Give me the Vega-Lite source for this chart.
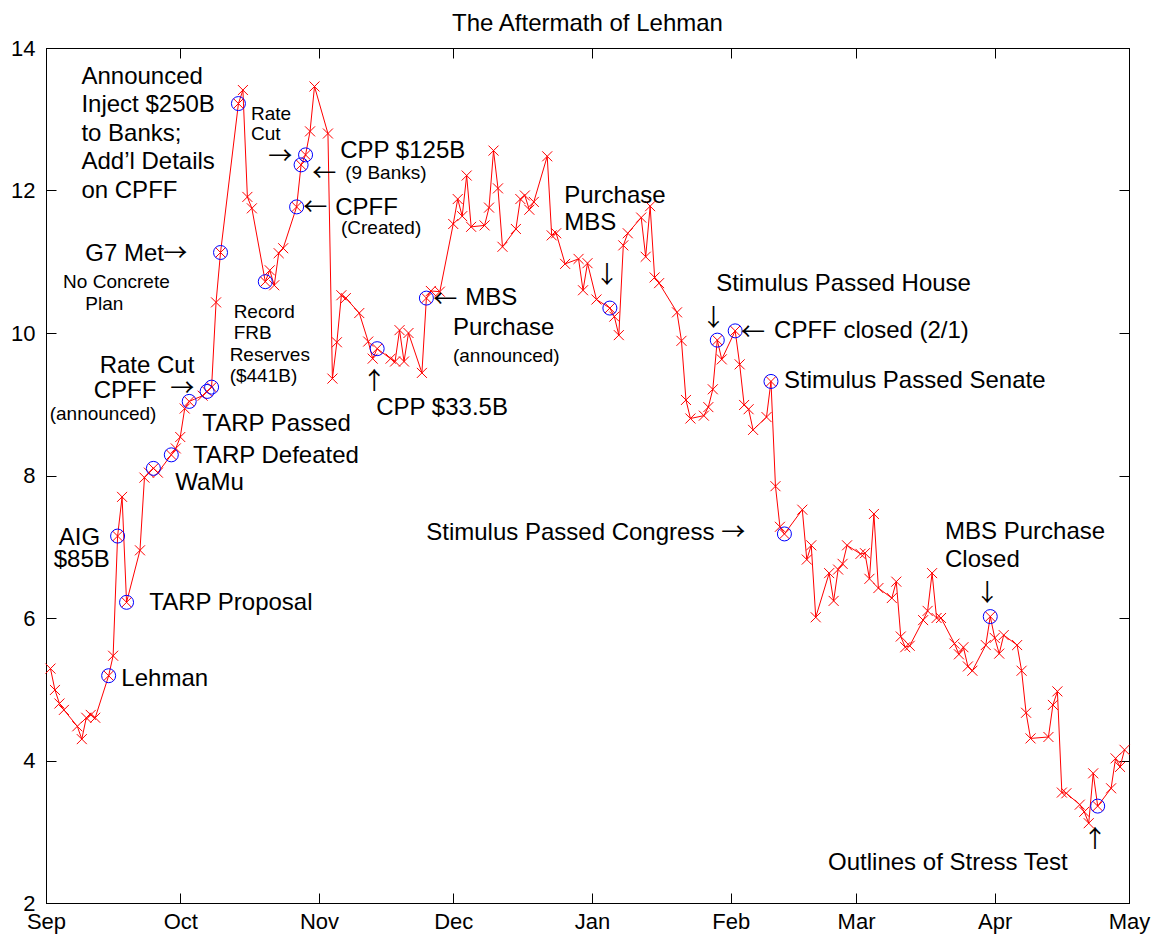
{
  "$schema": "https://vega.github.io/schema/vega-lite/v6.json",
  "autosize": {"type": "none"},
  "width": 1083,
  "height": 855,
  "padding": {"left": 46, "top": 48, "right": 24, "bottom": 33},
  "background": "white",
  "title": {"text": "The Aftermath of Lehman", "fontSize": 24, "fontWeight": "normal", "font": "Liberation Sans", "color": "black", "offset": 1},
  "config": {"view": {"stroke": "black", "strokeWidth": 1}, "font": "Liberation Sans"},
  "datasets": {
    "series": [
      {"d": "2008-09-02", "v": 5.29, "e": 0},
      {"d": "2008-09-03", "v": 4.99, "e": 0},
      {"d": "2008-09-04", "v": 4.80, "e": 0},
      {"d": "2008-09-05", "v": 4.71, "e": 0},
      {"d": "2008-09-08", "v": 4.48, "e": 0},
      {"d": "2008-09-09", "v": 4.30, "e": 0},
      {"d": "2008-09-10", "v": 4.60, "e": 0},
      {"d": "2008-09-11", "v": 4.64, "e": 0},
      {"d": "2008-09-12", "v": 4.60, "e": 0},
      {"d": "2008-09-15", "v": 5.19, "e": 1},
      {"d": "2008-09-16", "v": 5.47, "e": 0},
      {"d": "2008-09-17", "v": 7.15, "e": 1},
      {"d": "2008-09-18", "v": 7.70, "e": 0},
      {"d": "2008-09-19", "v": 6.22, "e": 1},
      {"d": "2008-09-22", "v": 6.95, "e": 0},
      {"d": "2008-09-23", "v": 7.97, "e": 0},
      {"d": "2008-09-24", "v": 8.04, "e": 0},
      {"d": "2008-09-25", "v": 8.10, "e": 1},
      {"d": "2008-09-26", "v": 8.04, "e": 0},
      {"d": "2008-09-29", "v": 8.29, "e": 1},
      {"d": "2008-09-30", "v": 8.38, "e": 0},
      {"d": "2008-10-01", "v": 8.54, "e": 0},
      {"d": "2008-10-02", "v": 8.94, "e": 0},
      {"d": "2008-10-03", "v": 9.04, "e": 1},
      {"d": "2008-10-06", "v": 9.12, "e": 0},
      {"d": "2008-10-07", "v": 9.18, "e": 1},
      {"d": "2008-10-08", "v": 9.24, "e": 1},
      {"d": "2008-10-09", "v": 10.43, "e": 0},
      {"d": "2008-10-10", "v": 11.13, "e": 1},
      {"d": "2008-10-14", "v": 13.22, "e": 1},
      {"d": "2008-10-15", "v": 13.41, "e": 0},
      {"d": "2008-10-16", "v": 11.91, "e": 0},
      {"d": "2008-10-17", "v": 11.75, "e": 0},
      {"d": "2008-10-20", "v": 10.72, "e": 1},
      {"d": "2008-10-21", "v": 10.88, "e": 0},
      {"d": "2008-10-22", "v": 10.67, "e": 0},
      {"d": "2008-10-23", "v": 11.12, "e": 0},
      {"d": "2008-10-24", "v": 11.19, "e": 0},
      {"d": "2008-10-27", "v": 11.77, "e": 1},
      {"d": "2008-10-28", "v": 12.36, "e": 1},
      {"d": "2008-10-29", "v": 12.50, "e": 1},
      {"d": "2008-10-30", "v": 12.83, "e": 0},
      {"d": "2008-10-31", "v": 13.46, "e": 0},
      {"d": "2008-11-03", "v": 12.80, "e": 0},
      {"d": "2008-11-04", "v": 9.36, "e": 0},
      {"d": "2008-11-05", "v": 9.87, "e": 0},
      {"d": "2008-11-06", "v": 10.53, "e": 0},
      {"d": "2008-11-07", "v": 10.49, "e": 0},
      {"d": "2008-11-10", "v": 10.28, "e": 0},
      {"d": "2008-11-12", "v": 9.88, "e": 0},
      {"d": "2008-11-13", "v": 9.64, "e": 0},
      {"d": "2008-11-14", "v": 9.78, "e": 1},
      {"d": "2008-11-17", "v": 9.64, "e": 0},
      {"d": "2008-11-18", "v": 9.60, "e": 0},
      {"d": "2008-11-19", "v": 10.04, "e": 0},
      {"d": "2008-11-20", "v": 9.60, "e": 0},
      {"d": "2008-11-21", "v": 10.00, "e": 0},
      {"d": "2008-11-24", "v": 9.44, "e": 0},
      {"d": "2008-11-25", "v": 10.49, "e": 1},
      {"d": "2008-11-26", "v": 10.59, "e": 0},
      {"d": "2008-11-28", "v": 10.58, "e": 0},
      {"d": "2008-12-01", "v": 11.53, "e": 0},
      {"d": "2008-12-02", "v": 11.88, "e": 0},
      {"d": "2008-12-03", "v": 11.64, "e": 0},
      {"d": "2008-12-04", "v": 12.21, "e": 0},
      {"d": "2008-12-05", "v": 11.49, "e": 0},
      {"d": "2008-12-08", "v": 11.51, "e": 0},
      {"d": "2008-12-09", "v": 11.76, "e": 0},
      {"d": "2008-12-10", "v": 12.56, "e": 0},
      {"d": "2008-12-11", "v": 12.03, "e": 0},
      {"d": "2008-12-12", "v": 11.21, "e": 0},
      {"d": "2008-12-15", "v": 11.46, "e": 0},
      {"d": "2008-12-16", "v": 11.88, "e": 0},
      {"d": "2008-12-17", "v": 11.93, "e": 0},
      {"d": "2008-12-18", "v": 11.73, "e": 0},
      {"d": "2008-12-19", "v": 11.84, "e": 0},
      {"d": "2008-12-22", "v": 12.48, "e": 0},
      {"d": "2008-12-23", "v": 11.37, "e": 0},
      {"d": "2008-12-24", "v": 11.40, "e": 0},
      {"d": "2008-12-26", "v": 10.97, "e": 0},
      {"d": "2008-12-29", "v": 11.04, "e": 0},
      {"d": "2008-12-30", "v": 10.60, "e": 0},
      {"d": "2008-12-31", "v": 10.98, "e": 0},
      {"d": "2009-01-02", "v": 10.47, "e": 0},
      {"d": "2009-01-05", "v": 10.35, "e": 1},
      {"d": "2009-01-06", "v": 10.23, "e": 0},
      {"d": "2009-01-07", "v": 9.97, "e": 0},
      {"d": "2009-01-08", "v": 11.23, "e": 0},
      {"d": "2009-01-09", "v": 11.40, "e": 0},
      {"d": "2009-01-12", "v": 11.62, "e": 0},
      {"d": "2009-01-13", "v": 11.07, "e": 0},
      {"d": "2009-01-14", "v": 11.78, "e": 0},
      {"d": "2009-01-15", "v": 10.78, "e": 0},
      {"d": "2009-01-16", "v": 10.70, "e": 0},
      {"d": "2009-01-20", "v": 10.29, "e": 0},
      {"d": "2009-01-21", "v": 9.89, "e": 0},
      {"d": "2009-01-22", "v": 9.06, "e": 0},
      {"d": "2009-01-23", "v": 8.80, "e": 0},
      {"d": "2009-01-26", "v": 8.84, "e": 0},
      {"d": "2009-01-27", "v": 8.96, "e": 0},
      {"d": "2009-01-28", "v": 9.21, "e": 0},
      {"d": "2009-01-29", "v": 9.90, "e": 1},
      {"d": "2009-01-30", "v": 9.63, "e": 0},
      {"d": "2009-02-02", "v": 10.03, "e": 1},
      {"d": "2009-02-03", "v": 9.56, "e": 0},
      {"d": "2009-02-04", "v": 8.99, "e": 0},
      {"d": "2009-02-05", "v": 8.93, "e": 0},
      {"d": "2009-02-06", "v": 8.64, "e": 0},
      {"d": "2009-02-09", "v": 8.82, "e": 0},
      {"d": "2009-02-10", "v": 9.32, "e": 1},
      {"d": "2009-02-11", "v": 7.85, "e": 0},
      {"d": "2009-02-12", "v": 7.28, "e": 0},
      {"d": "2009-02-13", "v": 7.18, "e": 1},
      {"d": "2009-02-17", "v": 7.52, "e": 0},
      {"d": "2009-02-18", "v": 6.82, "e": 0},
      {"d": "2009-02-19", "v": 7.02, "e": 0},
      {"d": "2009-02-20", "v": 6.01, "e": 0},
      {"d": "2009-02-23", "v": 6.63, "e": 0},
      {"d": "2009-02-24", "v": 6.24, "e": 0},
      {"d": "2009-02-25", "v": 6.68, "e": 0},
      {"d": "2009-02-26", "v": 6.76, "e": 0},
      {"d": "2009-02-27", "v": 7.02, "e": 0},
      {"d": "2009-03-02", "v": 6.90, "e": 0},
      {"d": "2009-03-03", "v": 6.91, "e": 0},
      {"d": "2009-03-04", "v": 6.55, "e": 0},
      {"d": "2009-03-05", "v": 7.46, "e": 0},
      {"d": "2009-03-06", "v": 6.42, "e": 0},
      {"d": "2009-03-09", "v": 6.28, "e": 0},
      {"d": "2009-03-10", "v": 6.51, "e": 0},
      {"d": "2009-03-11", "v": 5.74, "e": 0},
      {"d": "2009-03-12", "v": 5.59, "e": 0},
      {"d": "2009-03-13", "v": 5.61, "e": 0},
      {"d": "2009-03-16", "v": 5.97, "e": 0},
      {"d": "2009-03-17", "v": 6.10, "e": 0},
      {"d": "2009-03-18", "v": 6.63, "e": 0},
      {"d": "2009-03-19", "v": 6.00, "e": 0},
      {"d": "2009-03-20", "v": 6.00, "e": 0},
      {"d": "2009-03-23", "v": 5.64, "e": 0},
      {"d": "2009-03-24", "v": 5.49, "e": 0},
      {"d": "2009-03-25", "v": 5.59, "e": 0},
      {"d": "2009-03-26", "v": 5.32, "e": 0},
      {"d": "2009-03-27", "v": 5.26, "e": 0},
      {"d": "2009-03-30", "v": 5.62, "e": 0},
      {"d": "2009-03-31", "v": 6.02, "e": 1},
      {"d": "2009-04-01", "v": 5.72, "e": 0},
      {"d": "2009-04-02", "v": 5.50, "e": 0},
      {"d": "2009-04-03", "v": 5.76, "e": 0},
      {"d": "2009-04-06", "v": 5.62, "e": 0},
      {"d": "2009-04-07", "v": 5.26, "e": 0},
      {"d": "2009-04-08", "v": 4.67, "e": 0},
      {"d": "2009-04-09", "v": 4.31, "e": 0},
      {"d": "2009-04-13", "v": 4.33, "e": 0},
      {"d": "2009-04-14", "v": 4.78, "e": 0},
      {"d": "2009-04-15", "v": 4.97, "e": 0},
      {"d": "2009-04-16", "v": 3.55, "e": 0},
      {"d": "2009-04-17", "v": 3.54, "e": 0},
      {"d": "2009-04-20", "v": 3.38, "e": 0},
      {"d": "2009-04-21", "v": 3.28, "e": 0},
      {"d": "2009-04-22", "v": 3.12, "e": 0},
      {"d": "2009-04-23", "v": 3.82, "e": 0},
      {"d": "2009-04-24", "v": 3.36, "e": 1},
      {"d": "2009-04-27", "v": 3.61, "e": 0},
      {"d": "2009-04-28", "v": 4.03, "e": 0},
      {"d": "2009-04-29", "v": 3.91, "e": 0},
      {"d": "2009-04-30", "v": 4.15, "e": 0}
    ],
    "labels": [
      {"d": "2008-09-08T22:00:00Z", "v": 13.59, "t": "Announced", "k": "big"},
      {"d": "2008-09-08T22:00:00Z", "v": 13.20, "t": "Inject $250B", "k": "big"},
      {"d": "2008-09-08T22:00:00Z", "v": 12.80, "t": "to Banks;", "k": "big"},
      {"d": "2008-09-08T22:00:00Z", "v": 12.40, "t": "Add’l Details", "k": "big"},
      {"d": "2008-09-08T22:00:00Z", "v": 12.00, "t": "on CPFF", "k": "big"},
      {"d": "2008-09-09T19:00:00Z", "v": 11.11, "t": "G7 Met", "k": "big"},
      {"d": "2008-09-27T05:20:00Z", "v": 11.11, "t": "→", "k": "harrow"},
      {"d": "2008-09-04T19:40:00Z", "v": 10.71, "t": "No Concrete", "k": "small"},
      {"d": "2008-09-09T19:00:00Z", "v": 10.41, "t": "Plan", "k": "small"},
      {"d": "2008-09-12T23:50:00Z", "v": 9.54, "t": "Rate Cut", "k": "big"},
      {"d": "2008-09-11T15:40:00Z", "v": 9.19, "t": "CPFF", "k": "big"},
      {"d": "2008-09-28T19:00:00Z", "v": 9.21, "t": "→", "k": "harrow"},
      {"d": "2008-09-01T19:50:00Z", "v": 8.86, "t": "(announced)", "k": "small"},
      {"d": "2008-10-05T22:20:00Z", "v": 8.72, "t": "TARP Passed", "k": "big"},
      {"d": "2008-10-03T20:40:00Z", "v": 8.27, "t": "TARP Defeated", "k": "big"},
      {"d": "2008-09-29T21:40:00Z", "v": 7.89, "t": "WaMu", "k": "big"},
      {"d": "2008-09-03T20:10:00Z", "v": 7.12, "t": "AIG", "k": "big"},
      {"d": "2008-09-02T17:20:00Z", "v": 6.81, "t": "$85B", "k": "big"},
      {"d": "2008-09-24T02:20:00Z", "v": 6.21, "t": "TARP Proposal", "k": "big"},
      {"d": "2008-09-17T20:10:00Z", "v": 5.15, "t": "Lehman", "k": "big"},
      {"d": "2008-10-16T19:30:00Z", "v": 13.07, "t": "Rate", "k": "small"},
      {"d": "2008-10-16T19:30:00Z", "v": 12.79, "t": "Cut", "k": "small"},
      {"d": "2008-10-20T16:20:00Z", "v": 12.47, "t": "→", "k": "harrow"},
      {"d": "2008-11-05T18:10:00Z", "v": 12.55, "t": "CPP $125B", "k": "big"},
      {"d": "2008-10-30T12:00:00Z", "v": 12.23, "t": "←", "k": "harrow"},
      {"d": "2008-11-06T20:50:00Z", "v": 12.24, "t": "(9 Banks)", "k": "small"},
      {"d": "2008-10-28T11:50:00Z", "v": 11.75, "t": "←", "k": "harrow"},
      {"d": "2008-11-04T15:20:00Z", "v": 11.76, "t": "CPFF", "k": "big"},
      {"d": "2008-11-05T22:00:00Z", "v": 11.47, "t": "(Created)", "k": "small"},
      {"d": "2008-10-12T22:20:00Z", "v": 10.30, "t": "Record", "k": "small"},
      {"d": "2008-10-12T22:20:00Z", "v": 10.00, "t": "FRB", "k": "small"},
      {"d": "2008-10-12T00:50:00Z", "v": 9.69, "t": "Reserves", "k": "small"},
      {"d": "2008-10-12T00:50:00Z", "v": 9.39, "t": "($441B)", "k": "small"},
      {"d": "2008-11-13T08:25:00Z", "v": 9.31, "t": "↑", "k": "varrow"},
      {"d": "2008-11-13T19:10:00Z", "v": 8.95, "t": "CPP $33.5B", "k": "big"},
      {"d": "2008-11-26T12:40:00Z", "v": 10.46, "t": "←", "k": "harrow"},
      {"d": "2008-12-03T16:20:00Z", "v": 10.49, "t": "MBS", "k": "big"},
      {"d": "2008-11-30T22:20:00Z", "v": 10.07, "t": "Purchase", "k": "big"},
      {"d": "2008-11-30T22:20:00Z", "v": 9.68, "t": "(announced)", "k": "small"},
      {"d": "2008-12-25T19:00:00Z", "v": 11.92, "t": "Purchase", "k": "big"},
      {"d": "2008-12-25T19:00:00Z", "v": 11.55, "t": "MBS", "k": "big"},
      {"d": "2009-01-04T08:00:00Z", "v": 10.80, "t": "↓", "k": "varrow"},
      {"d": "2009-01-28T17:50:00Z", "v": 10.69, "t": "Stimulus Passed House", "k": "big"},
      {"d": "2009-01-28T03:20:00Z", "v": 10.20, "t": "↓", "k": "varrow"},
      {"d": "2009-02-03T07:50:00Z", "v": 10.00, "t": "←", "k": "harrow"},
      {"d": "2009-02-10T16:50:00Z", "v": 10.03, "t": "CPFF closed (2/1)", "k": "big"},
      {"d": "2009-02-12T22:20:00Z", "v": 9.32, "t": "Stimulus Passed Senate", "k": "big"},
      {"d": "2008-11-24T23:20:00Z", "v": 7.19, "t": "Stimulus Passed Congress", "k": "big"},
      {"d": "2009-01-29T20:40:00Z", "v": 7.19, "t": "→", "k": "harrow"},
      {"d": "2009-03-20T21:20:00Z", "v": 7.21, "t": "MBS Purchase", "k": "big"},
      {"d": "2009-03-20T21:20:00Z", "v": 6.82, "t": "Closed", "k": "big"},
      {"d": "2009-03-30T08:10:00Z", "v": 6.34, "t": "↓", "k": "varrow"},
      {"d": "2009-04-23T09:40:00Z", "v": 2.88, "t": "↑", "k": "varrow"},
      {"d": "2009-02-22T18:10:00Z", "v": 2.56, "t": "Outlines of Stress Test", "k": "big"}
    ]
  },
  "resolve": {"axis": {"x": "independent", "y": "independent"}},
  "layer": [
    {
      "data": {"name": "series"},
      "mark": {"type": "line", "color": "#ff0000", "strokeWidth": 1},
      "encoding": {
        "x": {
          "field": "d", "type": "temporal",
          "scale": {"type": "utc", "domain": [{"year": 2008, "month": 9, "date": 1, "utc": true}, {"year": 2009, "month": 5, "date": 1, "utc": true}], "nice": false},
          "axis": {
            "orient": "bottom", "title": null, "grid": false,
            "values": [
              {"year": 2008, "month": 9, "date": 1, "utc": true},
              {"year": 2008, "month": 10, "date": 1, "utc": true},
              {"year": 2008, "month": 11, "date": 1, "utc": true},
              {"year": 2008, "month": 12, "date": 1, "utc": true},
              {"year": 2009, "month": 1, "date": 1, "utc": true},
              {"year": 2009, "month": 2, "date": 1, "utc": true},
              {"year": 2009, "month": 3, "date": 1, "utc": true},
              {"year": 2009, "month": 4, "date": 1, "utc": true},
              {"year": 2009, "month": 5, "date": 1, "utc": true}
            ],
            "labelExpr": "utcFormat(datum.value, '%b')",
            "tickSize": -10, "labelPadding": 18, "labelFontSize": 22, "labelFont": "Liberation Sans",
            "labelColor": "black", "tickColor": "black", "domainColor": "black", "domainWidth": 1,
            "labelOverlap": false, "labelFlush": false
          }
        },
        "y": {
          "field": "v", "type": "quantitative",
          "scale": {"domain": [2, 14], "nice": false, "zero": false},
          "axis": {
            "orient": "left", "title": null, "grid": false,
            "values": [2, 4, 6, 8, 10, 12, 14],
            "tickSize": -10, "labelPadding": 21, "labelFontSize": 22, "labelFont": "Liberation Sans",
            "labelColor": "black", "tickColor": "black", "domainColor": "black", "domainWidth": 1,
            "labelOverlap": false, "labelFlush": false
          }
        }
      }
    },
    {
      "data": {"name": "series"},
      "mark": {"type": "point", "shape": "M-1,-1L1,1M-1,1L1,-1", "filled": false, "color": "#ff0000", "strokeWidth": 1, "size": 100, "opacity": 1},
      "encoding": {
        "x": {
          "field": "d", "type": "temporal",
          "axis": {
            "orient": "top", "title": null, "grid": false, "labels": false,
            "values": [
              {"year": 2008, "month": 9, "date": 1, "utc": true},
              {"year": 2008, "month": 10, "date": 1, "utc": true},
              {"year": 2008, "month": 11, "date": 1, "utc": true},
              {"year": 2008, "month": 12, "date": 1, "utc": true},
              {"year": 2009, "month": 1, "date": 1, "utc": true},
              {"year": 2009, "month": 2, "date": 1, "utc": true},
              {"year": 2009, "month": 3, "date": 1, "utc": true},
              {"year": 2009, "month": 4, "date": 1, "utc": true},
              {"year": 2009, "month": 5, "date": 1, "utc": true}
            ],
            "tickSize": -10, "tickColor": "black", "domainColor": "black", "domainWidth": 1
          }
        },
        "y": {
          "field": "v", "type": "quantitative",
          "axis": {
            "orient": "right", "title": null, "grid": false, "labels": false,
            "values": [2, 4, 6, 8, 10, 12, 14],
            "tickSize": -10, "tickColor": "black", "domainColor": "black", "domainWidth": 1
          }
        }
      }
    },
    {
      "data": {"name": "series"},
      "transform": [{"filter": "datum.e == 1"}],
      "mark": {"type": "point", "shape": "circle", "filled": false, "color": "#0000ff", "strokeWidth": 1, "size": 196, "opacity": 1},
      "encoding": {
        "x": {"field": "d", "type": "temporal", "axis": null},
        "y": {"field": "v", "type": "quantitative", "axis": null}
      }
    },
    {
      "data": {"name": "labels"},
      "transform": [{"filter": "datum.k == 'big'"}],
      "mark": {"type": "text", "align": "left", "baseline": "middle", "fontSize": 24, "font": "Liberation Sans", "color": "black"},
      "encoding": {
        "x": {"field": "d", "type": "temporal", "axis": null},
        "y": {"field": "v", "type": "quantitative", "axis": null},
        "text": {"field": "t"}
      }
    },
    {
      "data": {"name": "labels"},
      "transform": [{"filter": "datum.k == 'small'"}],
      "mark": {"type": "text", "align": "left", "baseline": "middle", "fontSize": 19, "font": "Liberation Sans", "color": "black"},
      "encoding": {
        "x": {"field": "d", "type": "temporal", "axis": null},
        "y": {"field": "v", "type": "quantitative", "axis": null},
        "text": {"field": "t"}
      }
    },
    {
      "data": {"name": "labels"},
      "transform": [{"filter": "datum.k == 'harrow'"}],
      "mark": {"type": "text", "align": "left", "baseline": "middle", "fontSize": 24, "font": "Noto Sans CJK SC", "color": "black"},
      "encoding": {
        "x": {"field": "d", "type": "temporal", "axis": null},
        "y": {"field": "v", "type": "quantitative", "axis": null},
        "text": {"field": "t"}
      }
    },
    {
      "data": {"name": "labels"},
      "transform": [{"filter": "datum.k == 'varrow'"}],
      "mark": {"type": "text", "align": "center", "baseline": "middle", "fontSize": 24, "font": "Noto Sans CJK SC", "color": "black"},
      "encoding": {
        "x": {"field": "d", "type": "temporal", "axis": null},
        "y": {"field": "v", "type": "quantitative", "axis": null},
        "text": {"field": "t"}
      }
    }
  ]
}
